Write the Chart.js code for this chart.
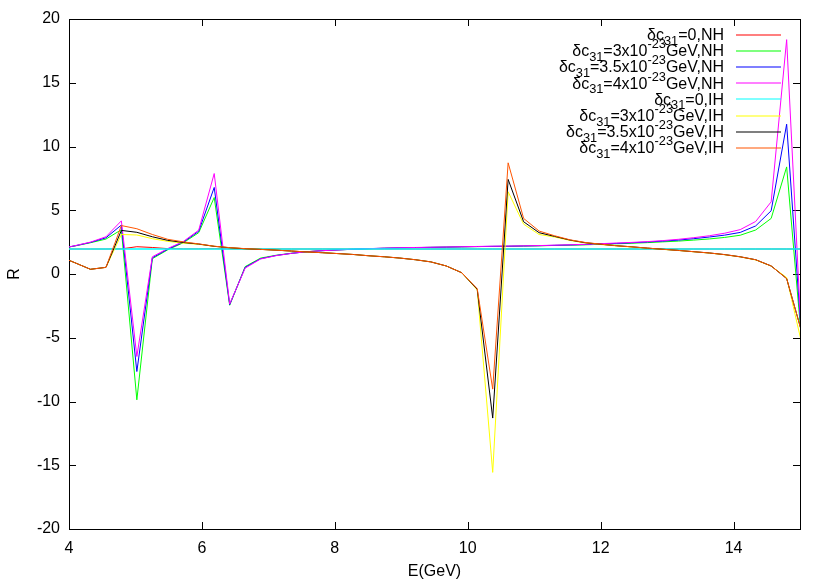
<!DOCTYPE html>
<html>
<head>
<meta charset="utf-8">
<script src="https://cdn.jsdelivr.net/npm/chart.js@4.4.1/dist/chart.umd.min.js"></script>
<style>
  html, body { margin: 0; padding: 0; background: #fff; }
  canvas { display: block; }
</style>
</head>
<body>
<canvas id="plot" width="830" height="581"></canvas>
<script>
// energies (GeV) of the sampled points; the first and last lie just outside the x range
const energy = [3.857, 4.090, 4.323, 4.556, 4.788, 5.021, 5.254, 5.487, 5.720, 5.952,
  6.185, 6.418, 6.651, 6.884, 7.116, 7.349, 7.582, 7.815, 8.048, 8.280,
  8.513, 8.746, 8.979, 9.212, 9.444, 9.677, 9.910, 10.143, 10.376, 10.608,
  10.841, 11.074, 11.307, 11.540, 11.772, 12.005, 12.238, 12.471, 12.704, 12.936,
  13.169, 13.402, 13.635, 13.868, 14.100, 14.333, 14.566, 14.799, 15.032];

// normal hierarchy
const nh0 = [1.96, 1.96, 1.96, 1.96, 1.97, 2.14, 2.08, 1.99, 1.97, 1.97,
  1.98, 1.97, 1.96, 1.96, 1.96, 1.96, 1.96, 1.96, 1.96, 1.96,
  1.96, 1.96, 1.96, 1.96, 1.96, 1.96, 1.96, 1.96, 1.96, 1.96,
  1.96, 1.96, 1.96, 1.96, 1.96, 1.96, 1.96, 1.96, 1.96, 1.96,
  1.96, 1.96, 1.96, 1.96, 1.96, 1.96, 1.96, 1.96, 1.96];
const nh30 = [1.98, 2.20, 2.45, 2.74, 3.47, -9.87, 1.20, 1.90, 2.45, 3.24,
  6.00, -2.45, 0.58, 1.25, 1.47, 1.63, 1.75, 1.83, 1.89, 1.94,
  1.98, 2.02, 2.05, 2.07, 2.09, 2.11, 2.13, 2.15, 2.16, 2.17,
  2.19, 2.21, 2.24, 2.26, 2.29, 2.33, 2.37, 2.41, 2.46, 2.52,
  2.58, 2.66, 2.75, 2.87, 3.04, 3.45, 4.36, 8.40, -5.74];
const nh35 = [1.98, 2.21, 2.48, 2.84, 3.84, -7.65, 1.27, 1.95, 2.50, 3.35,
  6.79, -2.40, 0.52, 1.20, 1.45, 1.62, 1.75, 1.83, 1.89, 1.94,
  1.99, 2.02, 2.05, 2.07, 2.09, 2.11, 2.13, 2.15, 2.17, 2.18,
  2.20, 2.22, 2.25, 2.28, 2.31, 2.36, 2.40, 2.45, 2.51, 2.58,
  2.66, 2.77, 2.90, 3.05, 3.26, 3.77, 4.96, 11.75, -5.66];
const nh40 = [1.98, 2.22, 2.50, 2.92, 4.17, -6.47, 1.35, 2.00, 2.55, 3.44,
  7.88, -2.35, 0.46, 1.18, 1.44, 1.62, 1.75, 1.83, 1.89, 1.95,
  1.99, 2.03, 2.06, 2.08, 2.10, 2.12, 2.14, 2.16, 2.18, 2.19,
  2.21, 2.23, 2.26, 2.29, 2.33, 2.38, 2.43, 2.48, 2.54, 2.62,
  2.72, 2.85, 3.00, 3.20, 3.48, 4.12, 5.66, 18.38, -6.19];

// inverted hierarchy
const ih0 = [1.96, 1.96, 1.96, 1.96, 1.96, 1.96, 1.96, 1.96, 1.96, 1.96,
  1.96, 1.96, 1.96, 1.96, 1.96, 1.96, 1.96, 1.96, 1.96, 1.96,
  1.96, 1.96, 1.96, 1.96, 1.96, 1.96, 1.96, 1.96, 1.96, 1.96,
  1.96, 1.96, 1.96, 1.96, 1.96, 1.96, 1.96, 1.96, 1.96, 1.96,
  1.96, 1.96, 1.96, 1.96, 1.96, 1.96, 1.96, 1.96, 1.96];
const ih30 = [1.38, 0.88, 0.37, 0.52, 3.10, 3.06, 2.77, 2.56, 2.42, 2.33,
  2.17, 2.06, 1.98, 1.93, 1.87, 1.80, 1.73, 1.67, 1.60, 1.53,
  1.43, 1.35, 1.25, 1.12, 0.95, 0.63, 0.10, -1.25, -15.56, 6.45,
  3.91, 3.10, 2.90, 2.63, 2.43, 2.31, 2.20, 2.11, 2.02, 1.93,
  1.84, 1.74, 1.64, 1.51, 1.34, 1.10, 0.62, -0.28, -5.59];
const ih35 = [1.38, 0.88, 0.37, 0.52, 3.42, 3.27, 2.92, 2.64, 2.47, 2.35,
  2.17, 2.06, 1.98, 1.93, 1.87, 1.80, 1.73, 1.67, 1.60, 1.53,
  1.43, 1.35, 1.25, 1.12, 0.95, 0.63, 0.10, -1.20, -11.30, 7.42,
  4.10, 3.24, 2.95, 2.66, 2.45, 2.33, 2.22, 2.13, 2.03, 1.94,
  1.85, 1.75, 1.65, 1.52, 1.35, 1.12, 0.63, -0.36, -4.66];
const ih40 = [1.38, 0.88, 0.37, 0.52, 3.80, 3.55, 3.10, 2.72, 2.52, 2.36,
  2.18, 2.07, 1.99, 1.93, 1.87, 1.80, 1.73, 1.67, 1.60, 1.53,
  1.43, 1.35, 1.25, 1.12, 0.95, 0.63, 0.10, -1.15, -9.03, 8.72,
  4.36, 3.37, 3.00, 2.68, 2.47, 2.34, 2.22, 2.13, 2.03, 1.94,
  1.85, 1.75, 1.65, 1.52, 1.35, 1.12, 0.63, -0.36, -4.66];

// labels use gnuplot-style markup: _{..} subscript, ^{..} superscript
const seriesLabels = [
  'δc_{31}=0,NH',
  'δc_{31}=3x10^{-23}GeV,NH',
  'δc_{31}=3.5x10^{-23}GeV,NH',
  'δc_{31}=4x10^{-23}GeV,NH',
  'δc_{31}=0,IH',
  'δc_{31}=3x10^{-23}GeV,IH',
  'δc_{31}=3.5x10^{-23}GeV,IH',
  'δc_{31}=4x10^{-23}GeV,IH'
];
const seriesValues = [nh0, nh30, nh35, nh40, ih0, ih30, ih35, ih40];
const seriesColors = ['#ff0000', '#00ff00', '#0000ff', '#ff00ff',
  '#00ffff', '#ffff00', '#000000', '#ff5500'];
// the flat cyan line is a touch wider so it hides the red one beneath it
const seriesWidths = [1, 1, 1, 1, 1.5, 1, 1, 1];

const xTicks = [4, 6, 8, 10, 12, 14];
const yTicks = [-20, -15, -10, -5, 0, 5, 10, 15, 20];

const FONT = 'Liberation Sans, Arial, Helvetica, sans-serif';
const TICK_LEN = 7;

// border box with inward ticks on all four sides
const framePlugin = {
  id: 'frame',
  beforeDatasetsDraw(chart) {
    const { ctx, chartArea: a, scales: { x, y } } = chart;
    ctx.save();
    ctx.strokeStyle = '#000';
    ctx.lineWidth = 1;
    ctx.beginPath();
    xTicks.forEach(v => {
      const px = Math.round(x.getPixelForValue(v)) + 0.5;
      ctx.moveTo(px, a.bottom); ctx.lineTo(px, a.bottom - TICK_LEN);
      ctx.moveTo(px, a.top); ctx.lineTo(px, a.top + TICK_LEN);
    });
    yTicks.forEach(v => {
      const py = Math.round(y.getPixelForValue(v)) + 0.5;
      ctx.moveTo(a.left, py); ctx.lineTo(a.left + TICK_LEN, py);
      ctx.moveTo(a.right, py); ctx.lineTo(a.right - TICK_LEN, py);
    });
    ctx.stroke();
    ctx.strokeRect(Math.round(a.left) + 0.5, Math.round(a.top) + 0.5,
      Math.round(a.width), Math.round(a.height));
    ctx.restore();
  }
};

// split 'δc_{31}=3x10^{-23}GeV' into plain / sub / sup pieces
function parseLabel(text) {
  const parts = [];
  const re = /([_^])\{([^}]*)\}/g;
  let last = 0, m;
  while ((m = re.exec(text)) !== null) {
    if (m.index > last) parts.push({ t: text.slice(last, m.index), kind: 'n' });
    parts.push({ t: m[2], kind: m[1] === '_' ? 'sub' : 'sup' });
    last = re.lastIndex;
  }
  if (last < text.length) parts.push({ t: text.slice(last), kind: 'n' });
  return parts;
}

// gnuplot-like key: right-aligned text, line sample on the right
const keyPlugin = {
  id: 'key',
  afterDatasetsDraw(chart) {
    const ctx = chart.ctx;
    const textRight = 724, lineX0 = 736, lineX1 = 781;
    const rowY0 = 34.5, rowStep = 16.2;
    ctx.save();
    ctx.textBaseline = 'alphabetic';
    ctx.textAlign = 'left';
    seriesLabels.forEach((label, i) => {
      const y = rowY0 + i * rowStep;
      const base = y + 5.5;
      const parts = parseLabel(label);
      let total = 0;
      parts.forEach(p => {
        ctx.font = (p.kind === 'n' ? 16 : 12.8) + 'px ' + FONT;
        p.w = ctx.measureText(p.t).width;
        total += p.w;
      });
      let x = textRight - total;
      ctx.fillStyle = '#000';
      parts.forEach(p => {
        ctx.font = (p.kind === 'n' ? 16 : 12.8) + 'px ' + FONT;
        const dy = p.kind === 'sub' ? 4.5 : p.kind === 'sup' ? -8 : 0;
        ctx.fillText(p.t, x, base + dy);
        x += p.w;
      });
      // drawn on a whole-pixel y so it spreads over two rows, like the soft gnuplot samples
      ctx.strokeStyle = seriesColors[i];
      ctx.lineWidth = 1.2;
      ctx.beginPath();
      ctx.moveTo(lineX0, Math.round(y));
      ctx.lineTo(lineX1, Math.round(y));
      ctx.stroke();
    });
    ctx.restore();
  }
};

const datasets = seriesValues.map((vals, i) => ({
  label: seriesLabels[i],
  data: energy.map((e, j) => ({ x: e, y: vals[j] })),
  borderColor: seriesColors[i],
  borderWidth: seriesWidths[i],
  pointRadius: 0,
  fill: false,
  tension: 0,
  order: seriesValues.length - i   // later series drawn on top, as in gnuplot
}));

new Chart(document.getElementById('plot'), {
  type: 'line',
  data: { datasets },
  options: {
    responsive: false,
    animation: false,
    layout: { padding: { top: 19, right: 30, left: 0, bottom: 0 } },
    plugins: {
      legend: { display: false },
      tooltip: { enabled: false }
    },
    scales: {
      x: {
        type: 'linear',
        min: 4,
        max: 15,
        grid: { display: false, drawTicks: false },
        border: { display: false },
        afterBuildTicks: s => { s.ticks = xTicks.map(v => ({ value: v })); },
        afterFit: s => { s.height = 52; },
        ticks: {
          color: '#000',
          font: { family: FONT, size: 16 },
          padding: 10,
          autoSkip: false,
          maxRotation: 0,
          callback: v => String(v)
        },
        title: {
          display: true,
          text: 'E(GeV)',
          color: '#000',
          font: { family: FONT, size: 16 },
          padding: { top: 0, bottom: 0 }
        }
      },
      y: {
        type: 'linear',
        min: -20,
        max: 20,
        grid: { display: false, drawTicks: false },
        border: { display: false },
        afterBuildTicks: s => { s.ticks = yTicks.map(v => ({ value: v })); },
        afterFit: s => { s.width = 69; },
        ticks: {
          color: '#000',
          font: { family: FONT, size: 16 },
          padding: 9,
          autoSkip: false,
          callback: v => String(v)
        },
        title: {
          display: true,
          text: 'R',
          color: '#000',
          font: { family: FONT, size: 16 },
          padding: { top: 5, bottom: 0 }
        }
      }
    }
  },
  plugins: [framePlugin, keyPlugin]
});
</script>
</body>
</html>
